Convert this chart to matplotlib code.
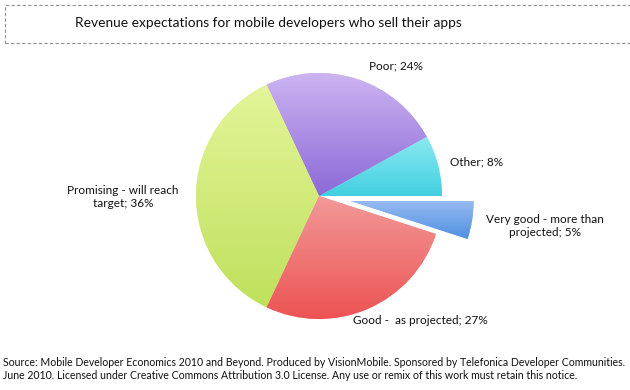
import numpy as np
import matplotlib
matplotlib.use("Agg")
import matplotlib.pyplot as plt
from matplotlib.colors import LinearSegmentedColormap
from matplotlib.patches import Rectangle

W, H = 630, 390

categories = [
    "Other",
    "Poor",
    "Promising - will reach\ntarget",
    "Good -  as projected",
    "Very good - more than\nprojected",
]
shares = [8, 24, 36, 27, 5]
explode_frac = [0, 0, 0, 0, 0.26]
# top / bottom colour of each slice's vertical gradient
top_colors = ["#8eeaf2", "#cdb6f2", "#e4f59a", "#f39a9a", "#9cbcf2"]
bottom_colors = ["#3fcfe0", "#8a68d6", "#bfe05c", "#ec5252", "#4c8fe0"]

# label anchors in pixels (x from left, y from top)
label_pos = [(477, 162), (396, 66), (123, 197), (420, 321), (545, 226)]

title = "Revenue expectations for mobile developers who sell their apps"
footer = ("Source: Mobile Developer Economics 2010 and Beyond. Produced by VisionMobile. "
          "Sponsored by Telefonica Developer Communities.\n"
          "June 2010. Licensed under Creative Commons Attribution 3.0 License. "
          "Any use or remix of this work must retain this notice.")

plt.rcParams["font.family"] = ["Lato", "DejaVu Sans"]

fig = plt.figure(figsize=(W / 100, H / 100), dpi=100)
ax = fig.add_axes([0, 0, 1, 1])

cx, cy, r = 319, H - 196, 123
# pie's explode is in data units, so scale it by the radius
wedges, _ = ax.pie(shares, explode=[e * r for e in explode_frac],
                   startangle=0, counterclock=True,
                   center=(cx, cy), radius=r, frame=True,
                   wedgeprops=dict(linewidth=0))
ax.set_xlim(0, W)
ax.set_ylim(0, H)
ax.set_aspect("equal")
ax.axis("off")

# vertical gradient inside every slice
grad = np.linspace(0, 1, 256).reshape(-1, 1)
for w, c0, c1 in zip(wedges, top_colors, bottom_colors):
    cmap = LinearSegmentedColormap.from_list("g", [c1, c0])
    w.set_facecolor(c0)
    ext = w.get_path().get_extents()
    im = ax.imshow(grad, cmap=cmap, origin="lower", aspect="auto",
                   extent=[ext.x0 - 2, ext.x1 + 2, ext.y0 - 2, ext.y1 + 2],
                   zorder=w.get_zorder() + 0.1)
    im.set_clip_path(w)

for (px, py), name, v in zip(label_pos, categories, shares):
    ax.text(px, H - py, f"{name}; {v}%", ha="center", va="center",
            multialignment="center", fontsize=8.5, color="#111111",
            linespacing=1.25)

# title box
fig.patches.append(Rectangle((5 / W, 1 - 43 / H), 640 / W, 38 / H,
                             transform=fig.transFigure, fill=False,
                             edgecolor="#909090", linestyle=(0, (3, 2)),
                             linewidth=0.8))
fig.text(268 / W, 1 - 23 / H, title, ha="center", va="center",
         fontsize=9.9, color="#111111")

fig.text(3 / W, 1 - 369 / H, footer, ha="left", va="center",
         fontsize=7.6, color="#111111", linespacing=1.15)

fig.savefig("out.png", dpi=100)
